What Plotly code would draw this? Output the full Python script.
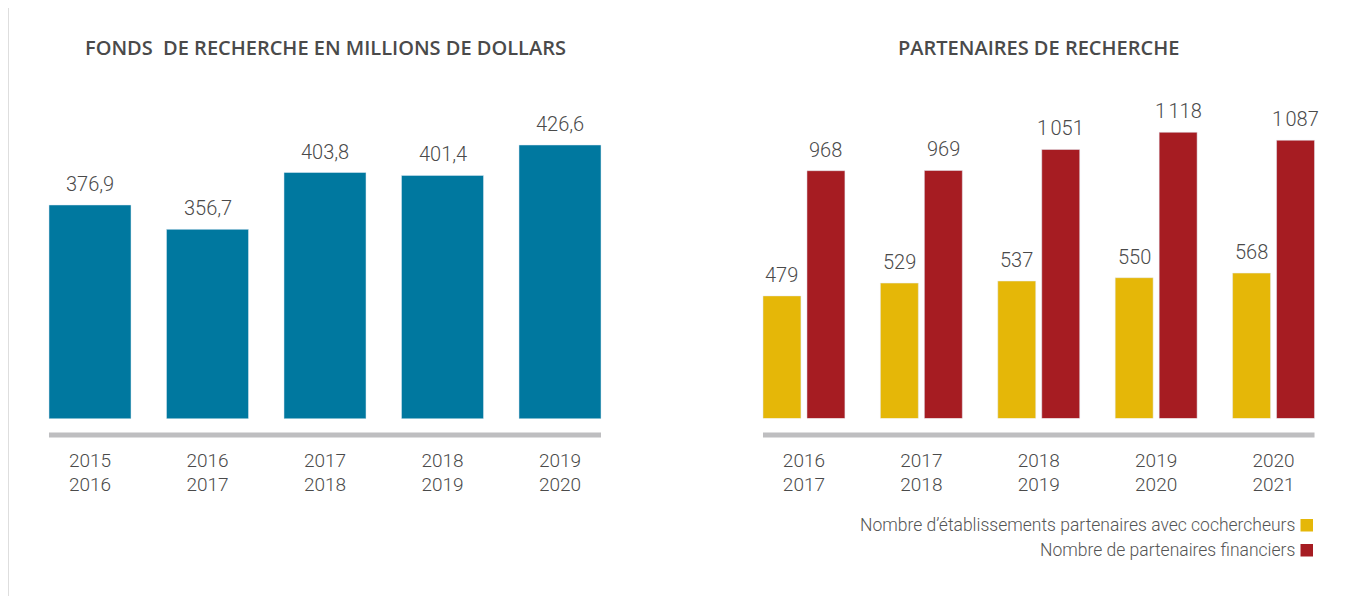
import plotly.graph_objects as go

# ---------------- data ----------------
left_title = "FONDS\u00a0\u00a0DE RECHERCHE EN MILLIONS DE DOLLARS"
right_title = "PARTENAIRES DE RECHERCHE"

left_cats = ["2015<br>2016", "2016<br>2017", "2017<br>2018", "2018<br>2019", "2019<br>2020"]
fonds = [376.9, 356.7, 403.8, 401.4, 426.6]

right_cats = ["2016<br>2017", "2017<br>2018", "2018<br>2019", "2019<br>2020", "2020<br>2021"]
etablissements = [479, 529, 537, 550, 568]
financiers = [968, 969, 1051, 1118, 1087]
series_names = ["Nombre d\u2019\u00e9tablissements partenaires avec cochercheurs",
                "Nombre de partenaires financiers"]

BLUE = "#00789F"
YELLOW = "#E5B708"
RED = "#A61C22"
GRAY_LINE = "#BEBEC0"
TXT = "#4A4A4A"
FONT = "Roboto"

# page body has an 8px margin, so the figure is drawn 8px in from the top-left
OFF = 8
W, H = 1355 - OFF, 596 - OFF

def px_x(p):
    return (p - OFF) / W

def px_y(p):
    return 1 - (p - OFF) / H

def fmt_int(v):
    return f"{v:,}".replace(",", "\u202f")

label_font = dict(size=20, color=TXT, family=FONT, weight=300)
BAR_W_L = 0.698
BAR_W_R = 0.3234
SLOT_PX = 117.5
LABEL_SHIFT = 7

fig = go.Figure()

fig.add_trace(go.Bar(
    x=left_cats, y=fonds, marker_color=BLUE, xaxis="x", yaxis="y",
    width=BAR_W_L, offset=-BAR_W_L / 2, showlegend=False,
))
fig.add_trace(go.Bar(
    x=right_cats, y=etablissements, marker_color=YELLOW, xaxis="x2", yaxis="y2",
    name=series_names[0], width=BAR_W_R, offset=-0.349, showlegend=False,
))
fig.add_trace(go.Bar(
    x=right_cats, y=financiers, marker_color=RED, xaxis="x2", yaxis="y2",
    name=series_names[1], width=BAR_W_R, offset=0.0256, showlegend=False,
))

# value labels above bars
for c, v in zip(left_cats, fonds):
    fig.add_annotation(x=c, y=v, xref="x", yref="y", text=f"{v:.1f}".replace(".", ","),
                       showarrow=False, yanchor="bottom", xanchor="center",
                       yshift=LABEL_SHIFT, font=label_font)
yellow_shift = (-0.349 + BAR_W_R / 2) * SLOT_PX
red_shift = (0.0256 + BAR_W_R / 2) * SLOT_PX
for c, v in zip(right_cats, etablissements):
    fig.add_annotation(x=c, y=v, xref="x2", yref="y2", text=fmt_int(v),
                       showarrow=False, yanchor="bottom", xanchor="center",
                       yshift=LABEL_SHIFT, xshift=yellow_shift, font=label_font)
for c, v in zip(right_cats, financiers):
    fig.add_annotation(x=c, y=v, xref="x2", yref="y2", text=fmt_int(v),
                       showarrow=False, yanchor="bottom", xanchor="center",
                       yshift=LABEL_SHIFT, xshift=red_shift, font=label_font)

base_px = 418.5
top_px = 58.0
ydom = [px_y(base_px), px_y(top_px)]
span_px = base_px - top_px

tickfont = dict(size=19, color=TXT, family=FONT, weight=300)

fig.update_layout(
    width=W, height=H,
    margin=dict(l=0, r=0, t=0, b=0),
    paper_bgcolor="white", plot_bgcolor="white",
    barmode="overlay",
    font=dict(family=FONT, color=TXT),
    xaxis=dict(domain=[px_x(31.25), px_x(618.75)], showgrid=False, zeroline=False,
               showline=False, tickfont=tickfont, ticks="", ticklabelstandoff=28,
               fixedrange=True),
    yaxis=dict(domain=ydom, range=[200, 200 + span_px / 1.207], visible=False,
               fixedrange=True),
    xaxis2=dict(domain=[px_x(745.25), px_x(1332.25)], anchor="y2", showgrid=False,
                zeroline=False, showline=False, tickfont=tickfont, ticks="",
                ticklabelstandoff=28, fixedrange=True),
    yaxis2=dict(domain=ydom, range=[0, span_px / 0.256], visible=False, anchor="x2",
                fixedrange=True),
    showlegend=False,
)

# Border
fig.add_shape(type="rect", xref="paper", yref="paper",
              x0=px_x(8), x1=px_x(1353.5), y0=-0.05, y1=px_y(6.5),
              line=dict(color="#D3D3D3", width=1.5), fillcolor="rgba(0,0,0,0)", layer="below")

# Gray base lines under bars
for xr in ["x", "x2"]:
    fig.add_shape(type="line", xref=xr, yref="paper",
                  x0=-0.349, x1=4.349, y0=px_y(435), y1=px_y(435),
                  line=dict(color=GRAY_LINE, width=5))

# Titles
title_font = dict(size=20, color="#4A4A4A", family="Open Sans", weight=600)
fig.add_annotation(text=left_title, xref="paper", yref="paper",
                   x=px_x(325), y=px_y(47), xanchor="center", yanchor="middle",
                   showarrow=False, font=title_font)
fig.add_annotation(text=right_title, xref="paper", yref="paper",
                   x=px_x(1038.5), y=px_y(47), xanchor="center", yanchor="middle",
                   showarrow=False, font=title_font)

# Custom legend: text then square to the right
legend_rows = [(series_names[0], YELLOW, 525), (series_names[1], RED, 550)]
for name, col, yy in legend_rows:
    fig.add_annotation(text=name, xref="paper", yref="paper",
                       x=px_x(1297), y=px_y(yy), xanchor="right", yanchor="middle",
                       showarrow=False,
                       font=dict(size=17.5, color="#555555", family=FONT, weight=300))
    fig.add_shape(type="rect", xref="paper", yref="paper",
                  x0=px_x(1300.5), x1=px_x(1313), y0=px_y(yy + 6.5), y1=px_y(yy - 6),
                  fillcolor=col, line=dict(width=0))

fig.write_html("out.html")
